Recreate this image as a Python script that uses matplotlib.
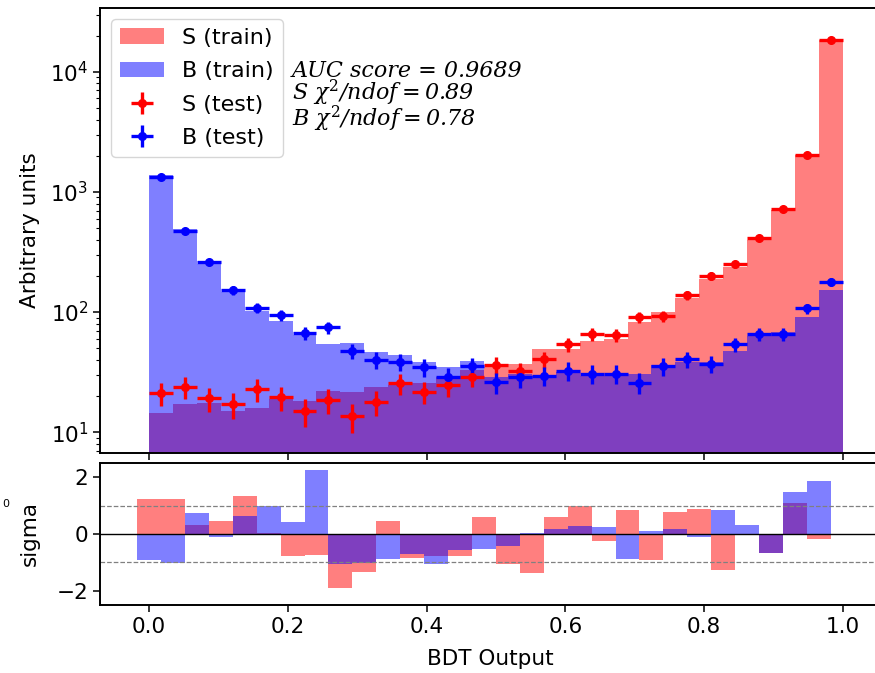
import numpy as np
import matplotlib
matplotlib.use('Agg')
import matplotlib.pyplot as plt

plt.rcParams['font.size'] = 15.5
plt.rcParams['mathtext.fontset'] = 'dejavuserif'

# 29 equal bins of the BDT output
n_bins = 29
edges = np.linspace(0.0, 1.0, n_bins + 1)
centers = 0.5 * (edges[1:] + edges[:-1])
width = edges[1] - edges[0]

# training histograms (arbitrary units)
sig_train = [14.5, 17.0, 17.5, 15.1, 16.0, 19.0, 18.3, 21.8, 21.5, 23.8,
             24.5, 25.8, 28.5, 33.0, 35.0, 37.0, 49.5, 49.0, 57.5, 60.0,
             82.0, 100.0, 130.0, 188.0, 236.0, 400.0, 710.0, 2035.0, 18400.0]
bkg_train = [1375.0, 495.0, 251.0, 148.0, 102.0, 84.0, 64.0, 54.5, 55.0, 46.5,
             43.5, 38.7, 34.6, 39.0, 28.7, 30.5, 29.4, 31.5, 29.5, 29.5,
             30.2, 36.0, 38.5, 38.0, 47.5, 63.0, 68.0, 90.5, 152.0]

# test histograms (arbitrary units)
sig_test = [21.0, 23.9, 19.1, 17.1, 22.7, 19.5, 15.0, 18.5, 13.5, 17.9,
            25.5, 21.7, 24.6, 28.9, 36.2, 32.0, 40.5, 53.8, 65.6, 64.3,
            90.5, 92.6, 138.6, 200.0, 250.0, 411.0, 718.0, 2035.0, 18480.0]
bkg_test = [1342.0, 476.0, 262.0, 152.0, 109.0, 94.0, 67.0, 74.6, 47.4, 40.0,
            38.3, 34.6, 28.9, 35.7, 26.0, 28.5, 29.6, 32.5, 30.6, 30.6,
            25.7, 35.2, 40.5, 37.0, 54.0, 66.0, 65.6, 107.0, 179.0]

# pulls (test - train) / error per bin
sig_pull = [1.25, 1.25, 0.33, 0.46, 1.33, 0.02, -0.79, -0.73, -1.91, -1.35,
            0.45, -0.85, -0.76, -0.79, 0.61, -1.06, -1.38, 0.61, 0.98, -0.24,
            0.85, -0.91, 0.78, 0.88, -1.28, -0.02, -0.68, 1.09, -0.16]
bkg_pull = [-0.91, -1.02, 0.74, -0.12, 0.65, 1.0, 0.42, 2.27, -1.06, -1.02,
            -0.87, -0.71, -1.06, -0.55, -0.53, -0.44, 0.04, 0.19, 0.29, 0.26,
            -0.87, 0.09, 0.19, -0.12, 0.85, 0.33, -0.66, 1.48, 1.88]

auc = 0.9689
chi2_s = 0.89
chi2_b = 0.78

fig = plt.figure(figsize=(8.75, 6.73), dpi=100)
ax1 = fig.add_axes([100 / 875, 1 - 453 / 673, 780 / 875, 445 / 673])
ax2 = fig.add_axes([100 / 875, 1 - 605 / 673, 780 / 875, 142 / 673], sharex=ax1)

# training distributions as filled histograms
_, _, p_s = ax1.hist(centers, bins=edges, weights=sig_train, color='r',
                     alpha=0.5, histtype='stepfilled', label='S (train)')
_, _, p_b = ax1.hist(centers, bins=edges, weights=bkg_train, color='b',
                     alpha=0.5, histtype='stepfilled', label='B (train)')

# test distributions as points with errors
e_s = ax1.errorbar(centers, sig_test, yerr=np.sqrt(sig_test), xerr=width / 2,
                   fmt='o', color='r', markersize=5.5, elinewidth=2.4,
                   label='S (test)')
e_b = ax1.errorbar(centers, bkg_test, yerr=np.sqrt(bkg_test), xerr=width / 2,
                   fmt='o', color='b', markersize=5.5, elinewidth=2.4,
                   label='B (test)')

ax1.set_yscale('log')
ax1.set_ylim(6.7, 3.4e4)
ax1.set_xlim(-0.0706, 1.0535)
ax1.set_ylabel('Arbitrary units')
ax1.tick_params(labelbottom=False)
ax1.legend(handles=[p_s[0], p_b[0], e_s, e_b], loc='upper left', fontsize=16,
           labelspacing=0.6)

# summary of the classifier performance
info = '\n'.join([f'AUC score = {auc:.4f}',
                  r'S $\chi^2$/ndof$=$' + f'{chi2_s:.2f}',
                  r'B $\chi^2$/ndof$=$' + f'{chi2_b:.2f}'])
ax1.text(0.246, 0.800, info, transform=ax1.transAxes, family='DejaVu Serif',
         style='italic', fontsize=16, va='center', ha='left', linespacing=0.8)

# pull panel
ax2.bar(edges[:-1], sig_pull, width=width, color='r', alpha=0.5)
ax2.bar(edges[:-1], bkg_pull, width=width, color='b', alpha=0.5)
ax2.axhline(0, color='k', lw=1)
ax2.axhline(1, color='grey', lw=0.9, ls='--')
ax2.axhline(-1, color='grey', lw=0.9, ls='--')
ax2.set_ylim(-2.5, 2.5)
ax2.set_yticks([-2, 0, 2])
ax2.set_ylabel('sigma')
ax2.set_xlabel('BDT Output', labelpad=9)

for ax in (ax1, ax2):
    for s in ax.spines.values():
        s.set_linewidth(1.4)
    ax.tick_params(which='major', length=5, width=1.1)
    ax.tick_params(which='minor', length=3, width=0.8)

ax1.yaxis.set_label_coords(-0.077, 0.5)
ax2.yaxis.set_label_coords(-0.077, 0.5)

fig.text(0.003, 1 - 504 / 673, '0', fontsize=8, va='center')

fig.savefig('out.png', dpi=100)
